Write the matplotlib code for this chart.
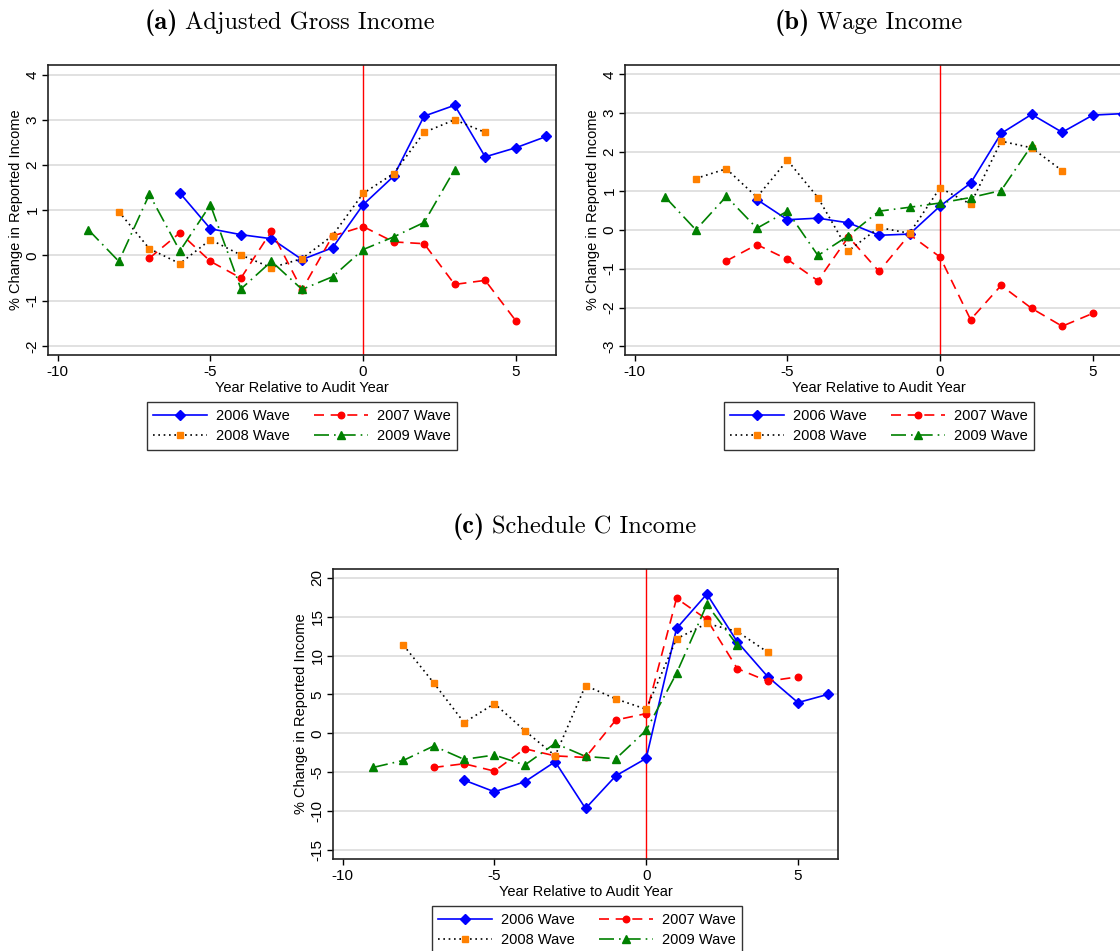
import matplotlib
matplotlib.use("Agg")
import matplotlib.pyplot as plt

plt.rcParams['font.family'] = ['Liberation Sans', 'DejaVu Sans']
plt.rcParams['axes.unicode_minus'] = False

# years relative to audit year, one range per wave
years_2006 = list(range(-6, 7))
years_2007 = list(range(-7, 6))
years_2008 = list(range(-8, 5))
years_2009 = list(range(-9, 4))

# (a) adjusted gross income
agi_2006 = [1.38, 0.59, 0.46, 0.37, -0.09, 0.17, 1.12, 1.75, 3.08, 3.32, 2.18, 2.38, 2.63]
agi_2007 = [-0.06, 0.50, -0.13, -0.50, 0.54, -0.76, 0.43, 0.64, 0.30, 0.26, -0.64, -0.55, -1.44]
agi_2008 = [0.97, 0.15, -0.18, 0.35, 0.01, -0.27, -0.07, 0.44, 1.37, 1.81, 2.72, 3.00, 2.72]
agi_2009 = [0.57, -0.13, 1.35, 0.10, 1.12, -0.74, -0.13, -0.75, -0.47, 0.13, 0.41, 0.73, 1.90]

# (b) wage income
wage_2006 = [0.78, 0.26, 0.30, 0.18, -0.14, -0.11, 0.61, 1.20, 2.48, 2.97, 2.51, 2.95, 2.99]
wage_2007 = [-0.80, -0.38, -0.76, -1.31, -0.18, -1.07, -0.12, -0.70, -2.31, -1.43, -2.02, -2.48, -2.15]
wage_2008 = [1.32, 1.57, 0.84, 1.79, 0.83, -0.54, 0.06, -0.09, 1.08, 0.66, 2.28, 2.11, 1.52]
wage_2009 = [0.84, 0.00, 0.86, 0.04, 0.48, -0.66, -0.15, 0.48, 0.58, 0.69, 0.83, 1.01, 2.17]

# (c) schedule C income
schc_2006 = [-6.02, -7.52, -6.23, -3.65, -9.67, -5.46, -3.22, 13.50, 17.93, 11.78, 7.31, 3.96, 5.03]
schc_2007 = [-4.39, -3.91, -4.86, -1.98, -2.90, -3.10, 1.72, 2.54, 17.37, 14.66, 8.34, 6.71, 7.27]
schc_2008 = [11.35, 6.49, 1.38, 3.83, 0.34, -2.88, 6.15, 4.43, 3.10, 12.17, 14.14, 13.11, 10.45]
schc_2009 = [-4.39, -3.48, -1.63, -3.35, -2.79, -4.08, -1.29, -2.97, -3.27, 0.39, 7.74, 16.59, 11.35]

W, H = 1120, 951
fig = plt.figure(figsize=(W / 100, H / 100), dpi=100)


def px(l, t, w, h):
    return [l / W, 1 - (t + h) / H, w / W, h / H]


def panel(rect, tag, title, split, ty, s06, s07, s08, s09, ylim, yticks):
    ax = fig.add_axes(px(*rect))
    for y in yticks:
        ax.axhline(y, color='#dcdcdc', lw=1.2, zorder=0)
    ax.axvline(0, color='red', lw=1.0, zorder=1)
    h06, = ax.plot(years_2006, s06, color='blue', lw=1.2, marker='D', ms=4.7, label='2006 Wave', zorder=3)
    h07, = ax.plot(years_2007, s07, color='red', lw=1.2, ls=(0, (6, 4)), marker='o', ms=4.7, label='2007 Wave', zorder=3)
    h08, = ax.plot(years_2008, s08, color='black', lw=1.2, ls=(0, (1, 2.2)), marker='s', ms=4.7,
                   mfc='#ff8000', mec='#ff8000', label='2008 Wave', zorder=3)
    h09, = ax.plot(years_2009, s09, color='green', lw=1.2, ls=(0, (9, 3, 1, 3)), marker='^', ms=5.2,
                   label='2009 Wave', zorder=3)
    ax.set_xlim(-10.32, 6.32)
    ax.set_ylim(*ylim)
    ax.set_xticks([-10, -5, 0, 5])
    ax.set_yticks(yticks)
    ax.tick_params(axis='both', direction='out', length=4, width=1, labelsize=11, color='black')
    ax.tick_params(axis='y', labelrotation=90, pad=2)
    for lab in ax.get_yticklabels():
        lab.set_va('center')
    for sp in ax.spines.values():
        sp.set_linewidth(1.2)
        sp.set_color('#222222')
    ax.set_xlabel('Year Relative to Audit Year', fontsize=10.5, labelpad=1)
    ax.set_ylabel('% Change in Reported Income', fontsize=10.5, labelpad=2)
    l, t, w, h = rect
    cx = l + 254
    fig.text(split / W, 1 - ty / H, tag, ha='right', va='center', fontsize=19, family='cmb10')
    fig.text((split + 7) / W, 1 - ty / H, title, ha='left', va='center', fontsize=17.6, family='cmr10')
    leg = ax.legend([h06, h08, h07, h09], ['2006 Wave', '2008 Wave', '2007 Wave', '2009 Wave'],
                    ncol=2, loc='center', bbox_to_anchor=(cx / W, 1 - (t + h + 71) / H),
                    bbox_transform=fig.transFigure, fontsize=10.5, frameon=True, fancybox=False,
                    edgecolor='black', handlelength=3.7, columnspacing=1.7, borderpad=0.45,
                    labelspacing=0.45, handletextpad=0.6)
    leg.get_frame().set_linewidth(1.0)
    return ax


panel((48, 65, 508, 290), '(a)', 'Adjusted Gross Income', 178, 23,
      agi_2006, agi_2007, agi_2008, agi_2009, (-2.2, 4.21), [-2, -1, 0, 1, 2, 3, 4])
panel((625, 65, 508, 290), '(b)', 'Wage Income', 810, 23,
      wage_2006, wage_2007, wage_2008, wage_2009, (-3.22, 4.24), [-3, -2, -1, 0, 1, 2, 3, 4])
panel((333, 569, 505, 290), '(c)', 'Schedule C Income', 485, 527,
      schc_2006, schc_2007, schc_2008, schc_2009, (-16.17, 21.15), [-15, -10, -5, 0, 5, 10, 15, 20])

fig.savefig('out.png', dpi=100)
